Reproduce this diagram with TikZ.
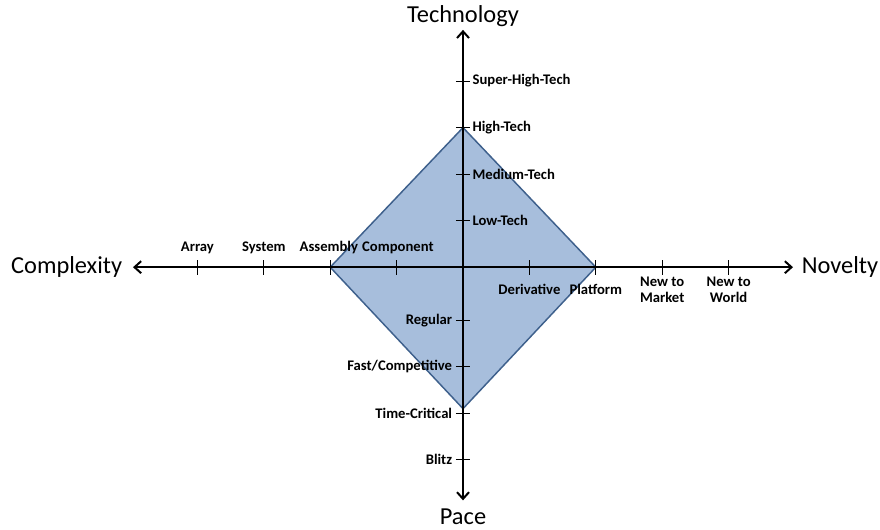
\documentclass[tikz,border=0pt]{standalone}
\usepackage{fontspec}
\setmainfont{Carlito}
\usetikzlibrary{arrows.meta}

\definecolor{diamondfill}{RGB}{167,190,220}
\definecolor{diamondline}{RGB}{62,96,140}

\tikzset{
  axis/.style={line width=1.5pt, {Straight Barb[length=5pt,width=9pt]}-{Straight Barb[length=5pt,width=9pt]}},
  tickmark/.style={line width=0.8pt},
  ticklabel/.style={font=\bfseries\fontsize{11}{11.8}\selectfont, inner sep=1pt, align=center},
  axistitle/.style={font=\fontsize{18.3}{20}\selectfont, inner sep=0pt}
}

\begin{document}
\begin{tikzpicture}[x=49.8pt, y=34.9pt]
 \useasboundingbox (-6.973,-5.634) rectangle (6.28,5.742);

 % tick positions
 \coordinate (array) at (-4,0);
 \coordinate (system) at (-3,0);
 \coordinate (assembly) at (-2,0);
 \coordinate (component) at (-1,0);
 \coordinate (derivative) at (1,0);
 \coordinate (platform) at (2,0);
 \coordinate (market) at (3,0);
 \coordinate (world) at (4,0);
 \coordinate (superhigh) at (0,4);
 \coordinate (high) at (0,3);
 \coordinate (medium) at (0,2);
 \coordinate (low) at (0,1);
 \coordinate (regular) at (0,-1.14);
 \coordinate (fast) at (0,-2.14);
 \coordinate (critical) at (0,-3.14);
 \coordinate (blitz) at (0,-4.14);
 \coordinate (critvertex) at (0,-3.04);

 % the diamond
 \draw[fill=diamondfill, draw=diamondline, line width=1.1pt, line join=miter]
   (high) -- (platform) -- (critvertex) -- (assembly) -- cycle;

 % axes
 \coordinate (westend) at (-4.97,0);
 \coordinate (eastend) at (4.97,0);
 \coordinate (northend) at (0,5.10);
 \coordinate (southend) at (0,-5.01);
 \draw[axis] (westend) -- (eastend);
 \draw[axis] (southend) -- (northend);

 \node[axistitle, anchor=east] (complexity) at (-5.13,0) {Complexity};
 \node[axistitle, anchor=west] (novelty) at (5.10,0) {Novelty};
 \node[axistitle] (technology) at (0,5.40) {Technology};
 \node[axistitle] (pace) at (0,-5.36) {Pace};

 % ticks on the horizontal axis
 \draw[tickmark] ([yshift=-5.5pt]array) -- ([yshift=5.5pt]array);
 \draw[tickmark] ([yshift=-5.5pt]system) -- ([yshift=5.5pt]system);
 \draw[tickmark] ([yshift=-5.5pt]assembly) -- ([yshift=5.5pt]assembly);
 \draw[tickmark] ([yshift=-5.5pt]component) -- ([yshift=5.5pt]component);
 \draw[tickmark] ([yshift=-5.5pt]derivative) -- ([yshift=5.5pt]derivative);
 \draw[tickmark] ([yshift=-5.5pt]platform) -- ([yshift=5.5pt]platform);
 \draw[tickmark] ([yshift=-5.5pt]market) -- ([yshift=5.5pt]market);
 \draw[tickmark] ([yshift=-5.5pt]world) -- ([yshift=5.5pt]world);

 % ticks on the vertical axis
 \draw[tickmark] ([xshift=-5.3pt]superhigh) -- ([xshift=5.3pt]superhigh);
 \draw[tickmark] ([xshift=-5.3pt]high) -- ([xshift=5.3pt]high);
 \draw[tickmark] ([xshift=-5.3pt]medium) -- ([xshift=5.3pt]medium);
 \draw[tickmark] ([xshift=-5.3pt]low) -- ([xshift=5.3pt]low);
 \draw[tickmark] ([xshift=-5.3pt]regular) -- ([xshift=5.3pt]regular);
 \draw[tickmark] ([xshift=-5.3pt]fast) -- ([xshift=5.3pt]fast);
 \draw[tickmark] ([xshift=-5.3pt]critical) -- ([xshift=5.3pt]critical);
 \draw[tickmark] ([xshift=-5.3pt]blitz) -- ([xshift=5.3pt]blitz);

 % labels
 \node[ticklabel] (arraylbl) at (-4,0.42) {Array};
 \node[ticklabel] (systemlbl) at (-3,0.42) {System};
 \node[ticklabel] (assemblylbl) at (-2.02,0.43) {Assembly};
 \node[ticklabel] (componentlbl) at (-0.98,0.42) {Component};
 \node[ticklabel] (derivativelbl) at (1,-0.47) {Derivative};
 \node[ticklabel] (platformlbl) at (2,-0.47) {Platform};
 \node[ticklabel] (marketlbl) at (3,-0.49) {New to\\Market};
 \node[ticklabel] (worldlbl) at (4,-0.49) {New to\\World};

 \node[ticklabel, anchor=west] (superhighlbl) at (0.12,4) {Super-High-Tech};
 \node[ticklabel, anchor=west] (highlbl) at (0.12,3) {High-Tech};
 \node[ticklabel, anchor=west] (mediumlbl) at (0.12,2) {Medium-Tech};
 \node[ticklabel, anchor=west] (lowlbl) at (0.12,1) {Low-Tech};
 \node[ticklabel, anchor=east] (regularlbl) at (-0.14,-1.14) {Regular};
 \node[ticklabel, anchor=east] (fastlbl) at (-0.14,-2.14) {Fast/Competitive};
 \node[ticklabel, anchor=east] (criticallbl) at (-0.14,-3.14) {Time-Critical};
 \node[ticklabel, anchor=east] (blitzlbl) at (-0.14,-4.14) {Blitz};
\end{tikzpicture}
\end{document}
